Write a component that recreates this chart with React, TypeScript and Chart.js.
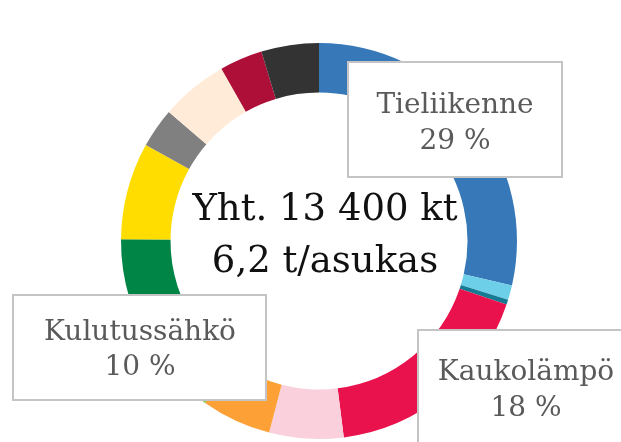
import { useEffect, useRef } from 'react';
import { Chart, registerables } from 'chart.js';

Chart.register(...registerables);

const categories = [
  'Tieliikenne',
  'Raideliikenne',
  'Vesiliikenne',
  'Kaukolämpö',
  'Sähkölämmitys',
  'Öljylämmitys',
  'Muu lämmitys',
  'Kulutussähkö',
  'Teollisuus',
  'Työkoneet',
  'Maatalous',
  'Jätteiden käsittely',
  'Muut',
];
const shares = [28.6, 1.2, 0.4, 17.8, 6.05, 5.7, 5.4, 10, 7.9, 3.25, 5.5, 3.5, 4.7];
const colors = [
  '#3778B8',
  '#6ECFE8',
  '#157A94',
  '#EA124C',
  '#F9D0DC',
  '#FDA035',
  '#7AC943',
  '#008547',
  '#FFDD00',
  '#808080',
  '#FFEBD8',
  '#AD0F38',
  '#333333',
];
const centerLines = ['Yht. 13 400 kt', '6,2 t/asukas'];
const calloutNames = ['Tieliikenne', 'Kaukolämpö', 'Kulutussähkö'];
const calloutPercents = ['29 %', '18 %', '10 %'];

// callout boxes, offsets from the doughnut centre
const calloutLayout = [
  { bx: 29, by: -179, bw: 214, bh: 115, tx: 136, l1: -128, l2: -92 },
  { bx: 99, by: 89, bw: 216, bh: 122, tx: 207, l1: 139, l2: 175 },
  { bx: -306, by: 54, bw: 253, bh: 105, tx: -179, l1: 99, l2: 134 },
];

const annotationPlugin = {
  id: 'centerAndCallouts',
  afterDraw(chart: any) {
    const ctx = chart.ctx as CanvasRenderingContext2D;
    const a = chart.chartArea;
    const cx = (a.left + a.right) / 2;
    const cy = (a.top + a.bottom) / 2;
    ctx.save();
    ctx.textAlign = 'center';
    ctx.textBaseline = 'alphabetic';
    ctx.fillStyle = '#111111';
    ctx.font = '37px "DejaVu Serif"';
    ctx.fillText(centerLines[0], cx + 6, cy - 21);
    ctx.fillText(centerLines[1], cx + 6, cy + 31);

    calloutLayout.forEach((c, i) => {
      ctx.fillStyle = '#ffffff';
      ctx.fillRect(cx + c.bx, cy + c.by, c.bw, c.bh);
      ctx.strokeStyle = '#C4C4C4';
      ctx.lineWidth = 2;
      ctx.strokeRect(cx + c.bx, cy + c.by, c.bw, c.bh);
      ctx.fillStyle = '#5A5A5A';
      ctx.font = '28px "DejaVu Serif"';
      ctx.fillText(calloutNames[i], cx + c.tx, cy + c.l1);
      ctx.fillText(calloutPercents[i], cx + c.tx, cy + c.l2);
    });
    ctx.restore();
  },
};

export default function App() {
  const ref = useRef<HTMLCanvasElement | null>(null);
  useEffect(() => {
    document.body.style.margin = '0';
    if (!ref.current) return;
    const chart = new Chart(ref.current, {
      type: 'doughnut',
      data: {
        labels: categories,
        datasets: [
          {
            data: shares,
            backgroundColor: colors,
            borderWidth: 0,
            hoverOffset: 0,
            offset: 0,
          },
        ],
      },
      options: {
        responsive: false,
        animation: false,
        cutout: '75%',
        layout: { padding: { left: 121, right: 104, top: 43, bottom: 3 } },
        plugins: {
          legend: { display: false },
          tooltip: { enabled: false },
          title: { display: false },
        },
      },
      plugins: [annotationPlugin],
    });
    return () => chart.destroy();
  }, []);
  return (
    <div style={{ width: 621, height: 442, background: '#ffffff' }}>
      <canvas ref={ref} width={621} height={442} />
    </div>
  );
}
